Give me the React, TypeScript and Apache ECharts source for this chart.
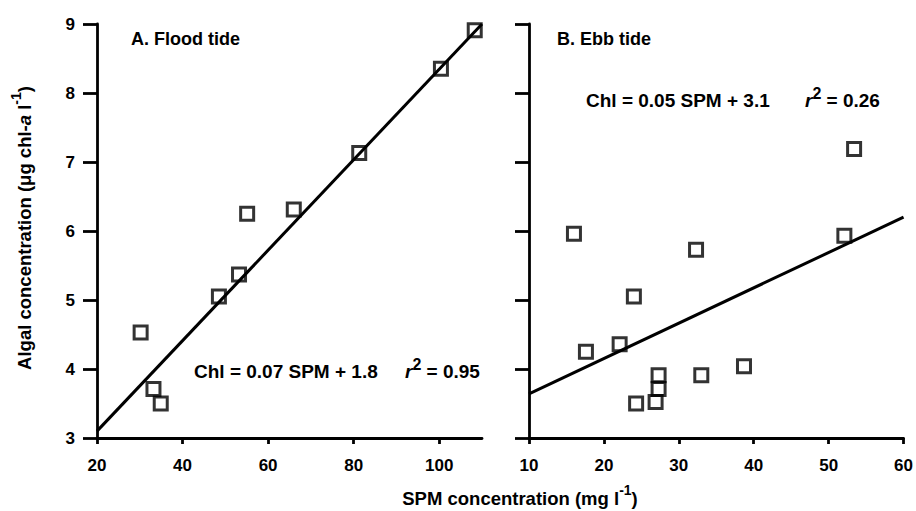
import React, { useEffect, useRef } from "react";
import * as echarts from "echarts";

// Panel A: flood tide
const floodSPM = [30.2, 33.2, 34.9, 48.5, 53.2, 55.1, 66.0, 81.3, 100.4, 108.3];
const floodChl = [4.53, 3.71, 3.5, 5.05, 5.37, 6.25, 6.31, 7.13, 8.35, 8.91];
const floodFitX = [20, 110];
const floodFitY = [3.1, 9.0];

// Panel B: ebb tide
const ebbSPM = [16.0, 32.3, 53.4, 52.1, 24.0, 17.6, 22.1, 27.3, 27.3, 26.9, 24.3, 33.0, 38.7];
const ebbChl = [5.96, 5.73, 7.19, 5.93, 5.05, 4.25, 4.36, 3.91, 3.71, 3.52, 3.5, 3.91, 4.04];
const ebbFitX = [10, 60];
const ebbFitY = [3.64, 6.2];

const floodXTicks = [20, 40, 60, 80, 100];
const ebbXTicks = [10, 20, 30, 40, 50, 60];

const FONT = "'Liberation Sans', Arial, Helvetica, sans-serif";

const richStyles = (size: number, supSize: number) => ({
  b: { fontSize: size, fontWeight: "bold", fontFamily: FONT, color: "#000", lineHeight: 30 },
  i: { fontSize: size, fontWeight: "bold", fontStyle: "italic", fontFamily: FONT, color: "#000", lineHeight: 30 },
  sup: { fontSize: supSize, fontWeight: "bold", fontFamily: FONT, color: "#000", lineHeight: 16, verticalAlign: "top" },
});

const textEl = (x: number, y: number, text: string, size: number, supSize: number, align = "left", extra: any = {}) => ({
  type: "text",
  x,
  y,
  ...extra,
  style: {
    text,
    rich: richStyles(size, supSize),
    fontSize: size,
    fontWeight: "bold",
    fontFamily: FONT,
    fill: "#000",
    align,
    textAlign: align,
    verticalAlign: "middle",
    textVerticalAlign: "middle",
  },
});

export default function App() {
  const ref = useRef<HTMLDivElement>(null);
  useEffect(() => {
    if (!ref.current) return;
    const chart = echarts.init(ref.current, null, { renderer: "svg" });
    const axisLine = { show: true, lineStyle: { color: "#000", width: 2.8 } };
    const labelStyle = { color: "#000", fontSize: 17, fontWeight: "bold", fontFamily: FONT };
    const scatterStyle = {
      color: "rgba(0,0,0,0)",
      borderColor: "#000",
      borderWidth: 3,
    };
    chart.setOption({
      animation: false,
      backgroundColor: "#fff",
      grid: [
        { left: 97, top: 24, width: 385, height: 414 },
        { left: 529, top: 24, width: 377.5, height: 414 },
      ],
      xAxis: [
        {
          gridIndex: 0,
          type: "value",
          min: 20,
          max: 110,
          interval: 20,
          axisLine,
          axisTick: { show: true, length: 6, customValues: floodXTicks, lineStyle: { color: "#000", width: 2.8 } },
          axisLabel: { ...labelStyle, margin: 19, customValues: floodXTicks },
          splitLine: { show: false },
        },
        {
          gridIndex: 1,
          type: "value",
          min: 10,
          max: 60,
          interval: 10,
          axisLine,
          axisTick: { show: true, length: 6, customValues: ebbXTicks, lineStyle: { color: "#000", width: 2.8 } },
          axisLabel: { ...labelStyle, margin: 19, customValues: ebbXTicks },
          splitLine: { show: false },
        },
      ],
      yAxis: [
        {
          gridIndex: 0,
          type: "value",
          min: 3,
          max: 9,
          interval: 1,
          axisLine,
          axisTick: { show: true, length: 14, lineStyle: { color: "#000", width: 2.8 } },
          axisLabel: { ...labelStyle, margin: 22 },
          splitLine: { show: false },
        },
        {
          gridIndex: 1,
          type: "value",
          min: 3,
          max: 9,
          interval: 1,
          axisLine,
          axisTick: { show: true, length: 14, lineStyle: { color: "#000", width: 2.8 } },
          axisLabel: { show: false },
          splitLine: { show: false },
        },
      ],
      series: [
        {
          type: "line",
          xAxisIndex: 0,
          yAxisIndex: 0,
          data: floodFitX.map((x, i) => [x, floodFitY[i]]),
          symbol: "none",
          lineStyle: { color: "#000", width: 3 },
          z: 1,
        },
        {
          type: "scatter",
          xAxisIndex: 0,
          yAxisIndex: 0,
          data: floodSPM.map((x, i) => [x, floodChl[i]]),
          symbol: "rect",
          symbolSize: 13,
          itemStyle: scatterStyle,
          z: 2,
        },
        {
          type: "line",
          xAxisIndex: 1,
          yAxisIndex: 1,
          data: ebbFitX.map((x, i) => [x, ebbFitY[i]]),
          symbol: "none",
          lineStyle: { color: "#000", width: 3 },
          z: 1,
        },
        {
          type: "scatter",
          xAxisIndex: 1,
          yAxisIndex: 1,
          data: ebbSPM.map((x, i) => [x, ebbChl[i]]),
          symbol: "rect",
          symbolSize: 13,
          itemStyle: scatterStyle,
          z: 2,
        },
      ],
      graphic: [
        textEl(131, 39, "{b|A. Flood tide}", 18, 13),
        textEl(557, 39, "{b|B. Ebb tide}", 18, 13),
        textEl(194, 371, "{b|Chl = 0.07 SPM + 1.8}", 19, 16),
        textEl(405, 371, "{i|r}{sup|2}{b| = 0.95}", 19, 16),
        textEl(586, 100, "{b|Chl = 0.05 SPM + 3.1}", 19, 16),
        textEl(805, 100, "{i|r}{sup|2}{b| = 0.26}", 19, 16),
        textEl(520, 498, "{b|SPM concentration (mg l}{sup|-1}{b|)}", 18.5, 14, "center"),
        textEl(24, 228, "{b|Algal concentration (μg chl-}{i|a}{b| l}{sup|-1}{b|)}", 18.5, 14, "center", {
          rotation: Math.PI / 2,
        }),
      ],
    });
    return () => chart.dispose();
  }, []);
  return (
    <div
      ref={ref}
      style={{ position: "fixed", left: 0, top: 0, width: 916, height: 511, background: "#fff" }}
    />
  );
}
